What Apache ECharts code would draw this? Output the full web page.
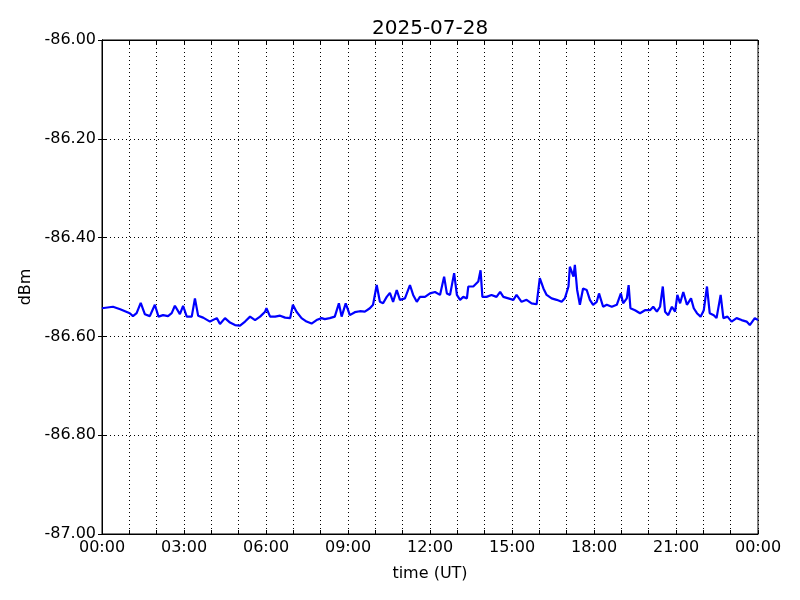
<!DOCTYPE html>
<html>
<head>
<meta charset="utf-8">
<script src="https://cdn.jsdelivr.net/npm/echarts@6/dist/echarts.min.js"></script>
<style>
html,body{margin:0;padding:0;background:#fff;}
#chart{width:800px;height:600px;}
</style>
</head>
<body>
<div id="chart"></div>
<script>
// Time in minutes since 00:00 UT
const times = [0,24,40,61,68,76,85,94,105,116,124,134,145,153,160,171,178,186,197,204,211,222,237,252,259,270,281,292,303,314,325,336,347,358,361,369,380,391,402,413,419,427,438,449,460,471,482,489,500,511,520,526,535,544,555,566,577,588,595,603,610,617,625,632,639,647,654,665,676,683,691,698,709,720,731,742,751,757,764,773,779,786,793,801,804,815,826,831,835,844,855,866,874,881,892,903,910,921,932,943,954,961,969,976,987,998,1009,1016,1024,1027,1035,1038,1043,1049,1056,1064,1071,1078,1086,1091,1100,1108,1119,1130,1139,1144,1152,1156,1160,1170,1181,1192,1203,1210,1218,1225,1231,1236,1243,1251,1258,1263,1269,1276,1284,1293,1299,1306,1314,1321,1328,1334,1343,1349,1358,1364,1373,1382,1393,1404,1415,1422,1433,1440];
// Signal level (dBm)
const values = [-86.543,-86.540,-86.545,-86.553,-86.559,-86.553,-86.532,-86.555,-86.559,-86.536,-86.560,-86.557,-86.559,-86.553,-86.538,-86.555,-86.538,-86.560,-86.560,-86.523,-86.558,-86.562,-86.570,-86.563,-86.575,-86.563,-86.572,-86.577,-86.578,-86.570,-86.560,-86.567,-86.560,-86.550,-86.543,-86.560,-86.560,-86.558,-86.562,-86.563,-86.536,-86.550,-86.563,-86.570,-86.574,-86.567,-86.563,-86.565,-86.563,-86.560,-86.533,-86.560,-86.533,-86.557,-86.551,-86.549,-86.550,-86.543,-86.536,-86.496,-86.530,-86.533,-86.520,-86.512,-86.530,-86.506,-86.526,-86.523,-86.496,-86.516,-86.530,-86.520,-86.520,-86.513,-86.510,-86.516,-86.479,-86.513,-86.516,-86.472,-86.516,-86.526,-86.520,-86.523,-86.499,-86.499,-86.489,-86.466,-86.520,-86.520,-86.516,-86.520,-86.510,-86.520,-86.523,-86.526,-86.516,-86.530,-86.526,-86.533,-86.535,-86.482,-86.503,-86.516,-86.523,-86.526,-86.530,-86.523,-86.499,-86.459,-86.479,-86.455,-86.506,-86.536,-86.503,-86.506,-86.526,-86.536,-86.530,-86.513,-86.540,-86.536,-86.540,-86.536,-86.513,-86.533,-86.523,-86.496,-86.543,-86.547,-86.553,-86.547,-86.547,-86.540,-86.550,-86.540,-86.499,-86.550,-86.557,-86.540,-86.550,-86.516,-86.533,-86.510,-86.536,-86.523,-86.543,-86.553,-86.560,-86.547,-86.499,-86.553,-86.557,-86.563,-86.516,-86.563,-86.560,-86.570,-86.563,-86.567,-86.570,-86.577,-86.563,-86.567];
const titleText = '2025-07-28';
const xName = 'time (UT)';
const yName = 'dBm';

const data = times.map((t, i) => [t, values[i]]);
const FONT = 'DejaVu Sans';
const fmtTime = v => {
  const h = Math.floor(v / 60) % 24;
  const m = Math.round(v % 60);
  return String(h).padStart(2, '0') + ':' + String(m).padStart(2, '0');
};
const chart = echarts.init(document.getElementById('chart'), null, {renderer: 'canvas'});
const gridLine = {show: true, lineStyle: {color: '#000', type: [1, 3], width: 1}};
chart.setOption({
  animation: false,
  backgroundColor: '#fff',
  title: {
    text: titleText, left: 367, top: 14,
    textStyle: {fontFamily: FONT, fontSize: 20, fontWeight: 'normal', color: '#000'}
  },
  grid: {left: 102, right: 42, top: 40, bottom: 66, show: true, borderColor: '#000', borderWidth: 1},
  xAxis: [{
    type: 'value', min: 0, max: 1440, interval: 60,
    name: xName, nameLocation: 'middle', nameGap: 32,
    nameTextStyle: {fontFamily: FONT, fontSize: 16, color: '#000'},
    axisLine: {show: true, lineStyle: {color: '#000', width: 1}},
    axisTick: {show: true, inside: true, length: 4, lineStyle: {color: '#000'}},
    axisLabel: {
      fontFamily: FONT, fontSize: 16, color: '#000', margin: 6,
      formatter: v => (v % 180 === 0 ? fmtTime(v) : '')
    },
    splitLine: gridLine
  }, {
    type: 'value', min: 0, max: 1440, interval: 60, position: 'top',
    axisLine: {show: true, lineStyle: {color: '#000'}},
    axisTick: {show: true, inside: true, length: 4, lineStyle: {color: '#000'}},
    axisLabel: {show: false}, splitLine: {show: false}
  }],
  yAxis: [{
    type: 'value', min: -87, max: -86, interval: 0.2,
    name: yName, nameLocation: 'middle', nameGap: 66, nameRotate: 90,
    nameTextStyle: {fontFamily: FONT, fontSize: 16, color: '#000'},
    axisLine: {show: true, lineStyle: {color: '#000', width: 1}},
    axisTick: {show: true, inside: true, length: 4, lineStyle: {color: '#000'}},
    axisLabel: {fontFamily: FONT, fontSize: 16, color: '#000', margin: 6, formatter: v => v.toFixed(2)},
    splitLine: gridLine
  }, {
    type: 'value', min: -87, max: -86, interval: 0.2, position: 'right',
    axisLine: {show: true, lineStyle: {color: '#000'}},
    axisTick: {show: true, inside: true, length: 4, lineStyle: {color: '#000'}},
    axisLabel: {show: false}, splitLine: {show: false}
  }],
  series: [{
    type: 'line', data: data, xAxisIndex: 0, yAxisIndex: 0,
    showSymbol: false, symbol: 'none',
    lineStyle: {color: '#0000ff', width: 2.2},
    itemStyle: {color: '#0000ff'}
  }]
});
</script>
</body>
</html>
